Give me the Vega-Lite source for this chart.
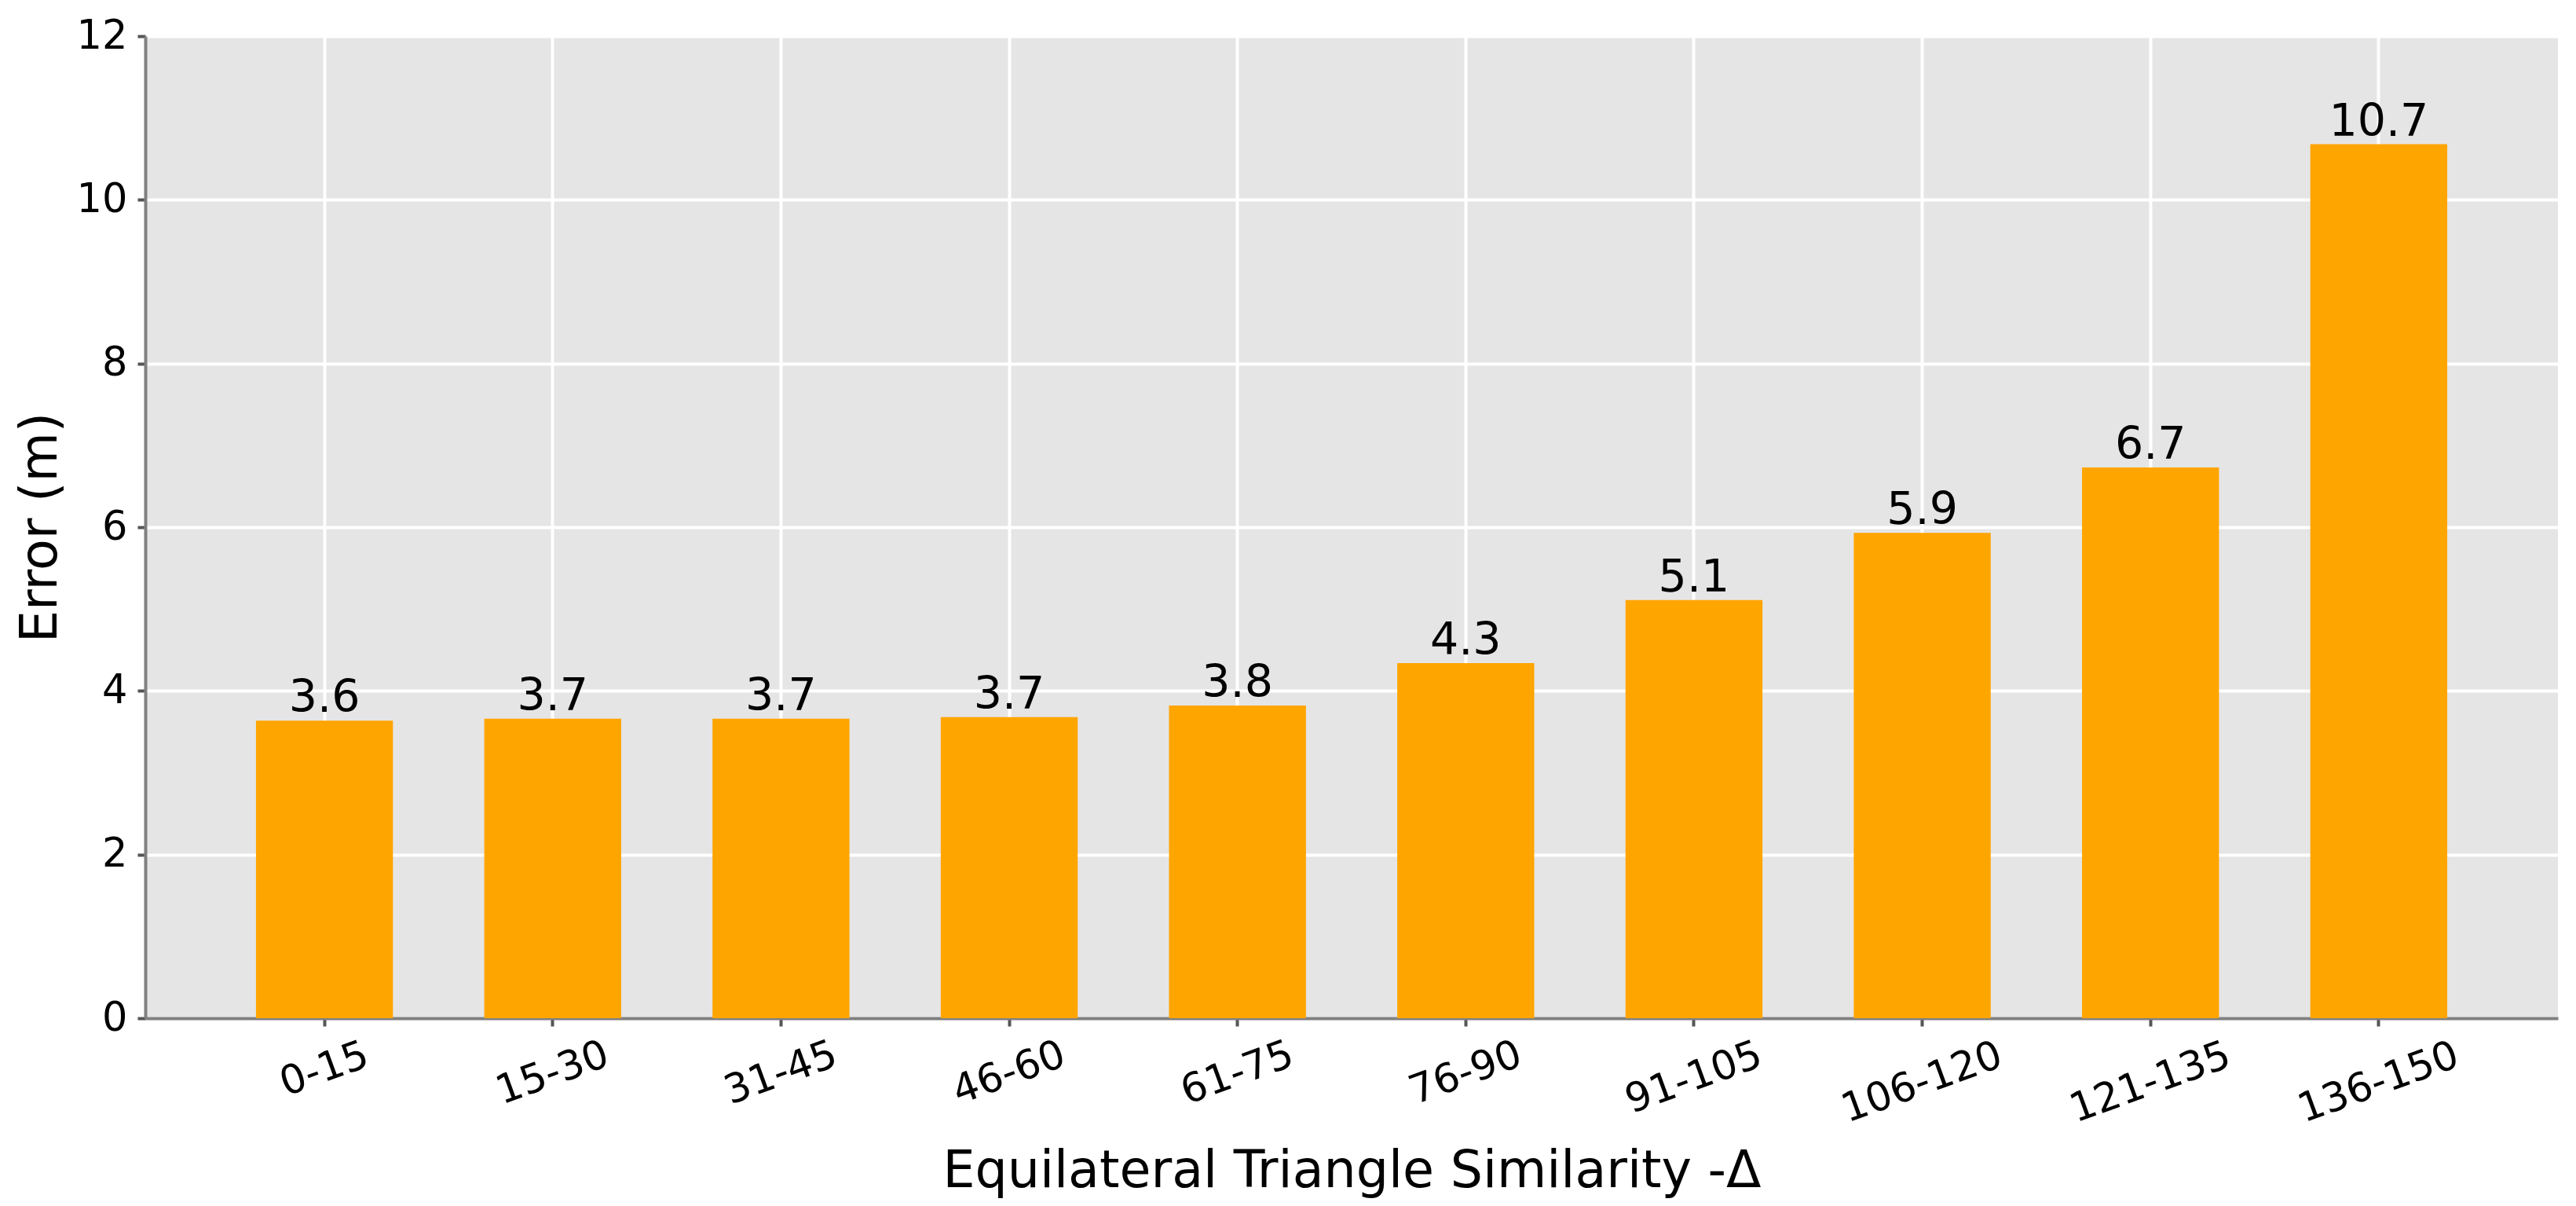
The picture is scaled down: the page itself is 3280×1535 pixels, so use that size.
{
  "$schema": "https://vega.github.io/schema/vega-lite/v6.json",
  "autosize": {"type": "none"},
  "padding": {"left": 185, "top": 46, "right": 23, "bottom": 239},
  "width": 3072,
  "height": 1250,
  "background": "white",
  "config": {
    "view": {"fill": "#E5E5E5", "stroke": null},
    "font": "DejaVu Sans",
    "axis": {
      "labelFont": "DejaVu Sans",
      "titleFont": "DejaVu Sans",
      "labelColor": "black",
      "titleColor": "black",
      "titleFontWeight": "normal",
      "labelFontSize": 51,
      "titleFontSize": 65,
      "labelLimit": 0,
      "grid": true,
      "gridColor": "white",
      "gridWidth": 4,
      "gridOpacity": 1,
      "domainColor": "#808080",
      "domainWidth": 4,
      "tickColor": "#555555",
      "tickWidth": 4,
      "tickSize": 10
    }
  },
  "data": {
    "values": [
      {"range": "0-15", "error": 3.635},
      {"range": "15-30", "error": 3.66},
      {"range": "31-45", "error": 3.66},
      {"range": "46-60", "error": 3.68},
      {"range": "61-75", "error": 3.82},
      {"range": "76-90", "error": 4.34},
      {"range": "91-105", "error": 5.11},
      {"range": "106-120", "error": 5.93},
      {"range": "121-135", "error": 6.73},
      {"range": "136-150", "error": 10.68}
    ]
  },
  "encoding": {
    "x": {
      "field": "range",
      "type": "nominal",
      "sort": null,
      "scale": {"paddingInner": 0.4, "paddingOuter": 0.485},
      "axis": {
        "title": "Equilateral Triangle Similarity -Δ",
        "labelAngle": -20,
        "labelAlign": "center",
        "labelBaseline": "middle",
        "labelPadding": {
          "condition": [
            {"test": "length(datum.label) == 5", "value": 60},
            {"test": "length(datum.label) == 6", "value": 66},
            {"test": "length(datum.label) >= 7", "value": 72}
          ],
          "value": 55
        },
        "labelOverlap": false,
        "labelFlush": false,
        "titlePadding": 22
      }
    },
    "y": {
      "field": "error",
      "type": "quantitative",
      "scale": {"domain": [0, 12], "nice": false, "zero": true},
      "axis": {
        "title": "Error (m)",
        "values": [0, 2, 4, 6, 8, 10, 12],
        "labelPadding": 13,
        "titlePadding": 12
      }
    }
  },
  "layer": [
    {"mark": {"type": "bar", "color": "#FFA500"}},
    {
      "mark": {"type": "text", "baseline": "alphabetic", "align": "center", "dy": -11, "fontSize": 57, "font": "DejaVu Sans", "color": "black"},
      "encoding": {"text": {"field": "error", "type": "quantitative", "format": ".1f"}}
    }
  ]
}
